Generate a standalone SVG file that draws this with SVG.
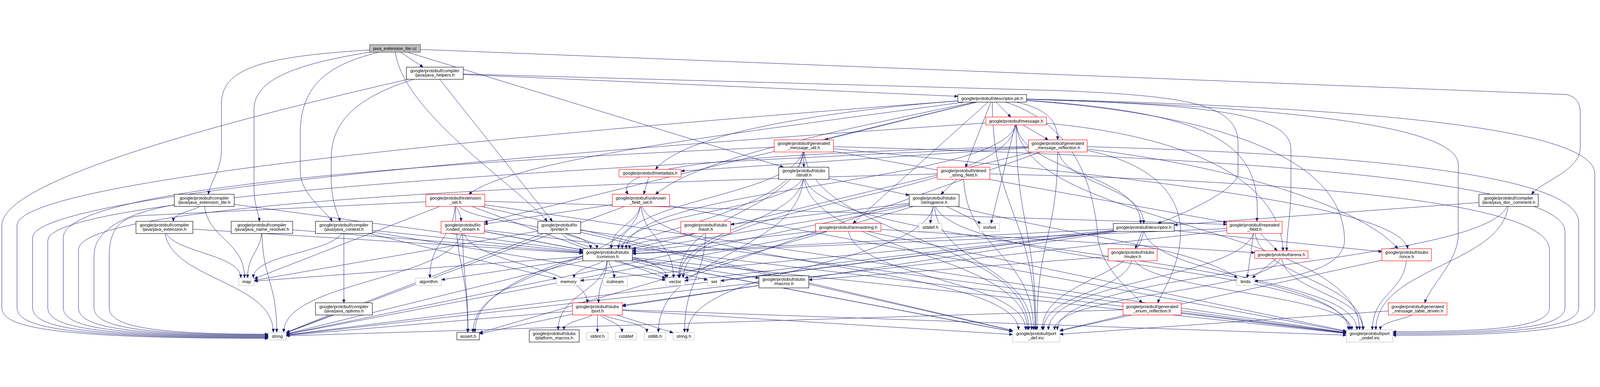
<svg xmlns="http://www.w3.org/2000/svg" width="5260" height="991" viewBox="0 0 5260 991" style="width:100%;height:100%">
<defs>
<style>
.e{fill:none;stroke:#191970;stroke-width:1.2;marker-end:url(#a)}
.n rect{fill:#fff;stroke:#000;stroke-width:1.4}
.r rect{fill:#fff;stroke:#ff0000;stroke-width:1.4}
.g rect{fill:#fff;stroke:#bfbfbf;stroke-width:1.4}
.rt rect{fill:#bfbfbf;stroke:#404040;stroke-width:1.4}
text{font-family:"Liberation Sans",Arial,Helvetica,sans-serif;font-size:14.7px;fill:#000;text-anchor:middle}
</style>
<marker id="a" markerWidth="12" markerHeight="10" refX="11" refY="5" orient="auto" markerUnits="userSpaceOnUse"><path d="M0,0.5 L11,5 L0,9.5 z" fill="#191970" stroke="#191970"/></marker>
</defs>
<rect x="0" y="0" width="5260" height="991" fill="#fff"/>
<g id="edges">
<path class="e" d="M1298.5,18.5 C900,40 728,70 728,200 L728,350 C728,420 690,460 685,498"/>
<path class="e" d="M1298.5,18.5 C1000,60 835,110 835,220 L835,480 C835,530 850,560 853,587"/>
<path class="e" d="M1298.5,18.5 C1100,60 987,120 987,300 L987,420 C987,500 1070,550 1092,587"/>
<path class="e" d="M1298.5,18.5 L1391,80"/>
<path class="e" d="M1298.5,18.5 C1310,220 1700,470 1799,587"/>
<path class="e" d="M1298.5,18.5 L2576,409"/>
<path class="e" d="M1298.5,18.5 L5150,170 Q5195,180 5195,230 L5195,345 C5195,420 5070,455 5035,498"/>
<path class="e" d="M1429.5,100 C1200,160 1089,240 1089,380 L1089,450 C1089,520 1110,560 1118,587"/>
<path class="e" d="M1429.5,100 L1816,587"/>
<path class="e" d="M1429.5,100 L3149,176"/>
<path class="e" d="M1429.5,100 L3480,157 C3900,175 4070,200 4070,330 L4070,430 C4070,480 3900,560 3806,594"/>
<path class="e" d="M1429.5,100 Q6,420 6,600 L6,870 C6,930 126,972 882,972"/>
<path class="e" d="M3262,182.5 Q56,420 56,600 L56,870 C56,930 176,970 882,970"/>
<path class="e" d="M3340.5,257 Q107,470 107,640 L107,870 C107,930 227,968 882,968"/>
<path class="e" d="M3477.5,339 Q157,480 157,650 L157,870 C157,930 277,966 882,966"/>
<path class="e" d="M2642.5,339 Q208,440 208,640 L208,870 C208,930 328,964 882,964"/>
<path class="e" d="M3167.5,429 Q258,500 258,680 L258,870 C258,930 378,962 882,962"/>
<path class="e" d="M671.5,518 Q309,560 309,700 L309,870 C309,930 429,960 882,960"/>
<path class="e" d="M1497,518 L470,568 Q359,572 359,700 L359,870 C359,930 479,958 882,958"/>
<path class="e" d="M671.5,518 c0,34.5 -101.6,34.5 -101.6,69"/>
<path class="e" d="M671.5,518 c0,127.5 132.5,127.5 132.5,255"/>
<path class="e" d="M671.5,518 l1244.5,168"/>
<path class="e" d="M540.5,607 c0,83 251.1,83 251.1,166"/>
<path class="e" d="M540.5,607 c0,172.5 358,172.5 358,345"/>
<path class="e" d="M540.5,607 l1375.5,85"/>
<path class="e" d="M861,607 c0,83 -47,83 -47,166"/>
<path class="e" d="M861,607 c0,172.5 48.7,172.5 48.7,345"/>
<path class="e" d="M861,607 l1055,83.5"/>
<path class="e" d="M1130.5,607 c0,83 -297.6,83 -297.6,166"/>
<path class="e" d="M1130.5,607 l699.5,169.1"/>
<path class="e" d="M1130.5,607 l1057.5,173.3"/>
<path class="e" d="M1130.5,607 l785.5,81.5"/>
<path class="e" d="M1130.5,607 L1130.5,855"/>
<path class="e" d="M1130.5,875 l-189.5,77.5"/>
<path class="e" d="M4959.5,518 L3860,599"/>
<path class="e" d="M4959.5,518 c0,213 -1483.4,213 -1483.4,426"/>
<path class="e" d="M4959.5,518 c0,213 -436.5,213 -436.5,426"/>
<path class="e" d="M1838.5,607 l-1002.5,174.1"/>
<path class="e" d="M1838.5,607 l-897.5,346.1"/>
<path class="e" d="M1838.5,607 c0,83 354.3,83 354.3,166"/>
<path class="e" d="M1838.5,607 c0,35 123.7,35 123.7,70"/>
<path class="e" d="M1838.5,607 l1490.5,339.4"/>
<path class="e" d="M1838.5,607 l2587.5,346.7"/>
<path class="e" d="M2642.5,429 c0,261.5 -478.1,261.5 -478.1,523"/>
<path class="e" d="M2642.5,429 c0,172 -408.2,172 -408.2,344"/>
<path class="e" d="M2642.5,429 c0,124 -596.9,124 -596.9,248"/>
<path class="e" d="M2642.5,429 L2989,501"/>
<path class="e" d="M2642.5,429 c0,257.5 735.4,257.5 735.4,515"/>
<path class="e" d="M2642.5,429 c0,257.5 1790.5,257.5 1790.5,515"/>
<path class="e" d="M3262,182.5 C4300,240 4420,500 4420,650 C4420,740 4250,775 4124,784"/>
<path class="e" d="M3262,182.5 c0,380.75 140.8,380.75 140.8,761.5"/>
<path class="e" d="M3262,182.5 Q5243,222 5243,430 L5243,870 C5243,930 5093,962 4579,962"/>
<path class="e" d="M3262,182.5 l-1670,407.2"/>
<path class="e" d="M3262,182.5 C3900,200 4244,220 4244,350 L4244,480 C4244,560 4230,620 4230,684"/>
<path class="e" d="M3262,182.5 L2804,594"/>
<path class="e" d="M3262,182.5 C4000,200 4794,250 4794,400 L4794,630 C4794,720 4700,800 4684,855"/>
<path class="e" d="M3262,182.5 L2711,319"/>
<path class="e" d="M3262,182.5 L3174,409"/>
<path class="e" d="M3262,182.5 C2700,220 2250,300 2155,416"/>
<path class="e" d="M3262,182.5 C3420,200 3477,240 3477,319"/>
<path class="e" d="M3262,182.5 L3323,244"/>
<path class="e" d="M3262,182.5 C4000,220 4150,330 4132,587"/>
<path class="e" d="M3262,182.5 C2400,300 1700,380 1541,498"/>
<path class="e" d="M3262,182.5 C3550,250 3600,500 3610,650 C3630,750 3720,820 3755,855"/>
<path class="e" d="M3262,182.5 C2700,300 2300,380 2155,498"/>
<path class="e" d="M3340.5,257 L3258,594"/>
<path class="e" d="M3340.5,257 c0,258 -1094.5,258 -1094.5,516"/>
<path class="e" d="M3340.5,257 C3900,290 4210,450 4218,684"/>
<path class="e" d="M3340.5,257 c0,168.5 409.5,168.5 409.5,337"/>
<path class="e" d="M3340.5,257 L3446,319"/>
<path class="e" d="M3340.5,257 c0,343.5 64.1,343.5 64.1,687"/>
<path class="e" d="M3340.5,257 c0,343.5 1129.1,343.5 1129.1,687"/>
<path class="e" d="M3340.5,257 c0,210 -1282,210 -1282,420"/>
<path class="e" d="M3477.5,339 l-1226.5,435.3"/>
<path class="e" d="M3477.5,339 l-1398.5,338.3"/>
<path class="e" d="M3477.5,339 c0,127.5 282.5,127.5 282.5,255"/>
<path class="e" d="M3477.5,339 C3850,380 3890,550 3880,650 C3870,750 3820,820 3806,855"/>
<path class="e" d="M3477.5,339 C2500,360 2000,400 2065,498"/>
<path class="e" d="M3477.5,339 C4100,400 4500,560 4595,677"/>
<path class="e" d="M3477.5,339 c0,302.5 -68.7,302.5 -68.7,605"/>
<path class="e" d="M3477.5,339 Q5190,380 5190,590 L5190,870 C5190,930 5040,958 4579,958"/>
<path class="e" d="M3477.5,339 L2239,421.7"/>
<path class="e" d="M2642.5,339 c0,306.5 -1081.5,306.5 -1081.5,613"/>
<path class="e" d="M2642.5,339 c0,217 -411.2,217 -411.2,434"/>
<path class="e" d="M2642.5,339 c0,169 -609,169 -609,338"/>
<path class="e" d="M2642.5,339 C3500,420 4600,520 4628,677"/>
<path class="e" d="M2642.5,339 L2642.5,409"/>
<path class="e" d="M2642.5,339 L4033,590.5"/>
<path class="e" d="M2642.5,339 c0,302.5 739.6,302.5 739.6,605"/>
<path class="e" d="M2642.5,339 Q5145,400 5145,620 L5145,870 C5145,930 4995,954 4579,954"/>
<path class="e" d="M2137,428.5 L2116,498"/>
<path class="e" d="M2107,518 c0,217 -552.1,217 -552.1,434"/>
<path class="e" d="M2107,518 l-1166,435.5"/>
<path class="e" d="M2107,518 c0,127.5 107.2,127.5 107.2,255"/>
<path class="e" d="M2107,518 c0,79.5 -97.3,79.5 -97.3,159"/>
<path class="e" d="M2107,518 l-515,78.2"/>
<path class="e" d="M2107,518 c0,213 1241.2,213 1241.2,426"/>
<path class="e" d="M2107,518 l2319,431.8"/>
<path class="e" d="M3167.5,429 L3093,498"/>
<path class="e" d="M3167.5,429 c0,257.5 230.1,257.5 230.1,515"/>
<path class="e" d="M3167.5,429 Q5094,470 5094,680 L5094,870 C5094,930 4944,950 4579,950"/>
<path class="e" d="M1497,518 c0,127.5 -83.9,127.5 -83.9,255"/>
<path class="e" d="M1497,518 c0,217 40.8,217 40.8,434"/>
<path class="e" d="M1497,518 l-661,257.6"/>
<path class="e" d="M1497,518 l691,255.8"/>
<path class="e" d="M1497,518 c0,79.5 444.6,79.5 444.6,159"/>
<path class="e" d="M1497,518 c0,34.5 18.6,34.5 18.6,69"/>
<path class="e" d="M1497,518 L4033,597"/>
<path class="e" d="M1497,518 l1832,427.9"/>
<path class="e" d="M1497,518 l2929,434.6"/>
<path class="e" d="M1521,607 c0,172.5 17.4,172.5 17.4,345"/>
<path class="e" d="M1521,607 c0,172.5 -588.2,172.5 -588.2,345"/>
<path class="e" d="M1521,607 l395,74.6"/>
<path class="e" d="M1521,607 c0,124 409.9,124 409.9,248"/>
<path class="e" d="M1521,607 l1808,342.3"/>
<path class="e" d="M1521,607 l2905,347.8"/>
<path class="e" d="M3071,518 l-1495,435.7"/>
<path class="e" d="M3071,518 L3058,594"/>
<path class="e" d="M3071,518 c0,217 -810.7,217 -810.7,434"/>
<path class="e" d="M3071,518 L3225,594"/>
<path class="e" d="M3071,518 C3500,640 3900,660 4068,773"/>
<path class="e" d="M3071,518 l-2130,440.4"/>
<path class="e" d="M3071,518 l-992,165.4"/>
<path class="e" d="M3071,518 L2402,597.3"/>
<path class="e" d="M3071,518 c0,213 320.5,213 320.5,426"/>
<path class="e" d="M3071,518 c0,213 1367.3,213 1367.3,426"/>
<path class="e" d="M2320,607 c0,172.5 -69.5,172.5 -69.5,345"/>
<path class="e" d="M2320,607 c0,35 -250.8,35 -250.8,70"/>
<path class="e" d="M2788.5,607 l-1847.5,351.9"/>
<path class="e" d="M2788.5,607 l-709.5,80.7"/>
<path class="e" d="M2788.5,607 L4125,690"/>
<path class="e" d="M2788.5,607 c0,168.5 583.4,168.5 583.4,337"/>
<path class="e" d="M2788.5,607 l1637.5,341.1"/>
<path class="e" d="M1997.5,697 l-546.5,82.2"/>
<path class="e" d="M1997.5,697 c0,38 21.5,38 21.5,76"/>
<path class="e" d="M1997.5,697 l-1161.5,86.6"/>
<path class="e" d="M1997.5,697 c0,38 -110.3,38 -110.3,76"/>
<path class="e" d="M1997.5,697 l328.5,83.1"/>
<path class="e" d="M1997.5,697 l-1056.5,260.2"/>
<path class="e" d="M1997.5,697 c0,38 190.6,38 190.6,76"/>
<path class="e" d="M1997.5,697 l497.5,76.4"/>
<path class="e" d="M1997.5,697 c0,123.5 -162.4,123.5 -162.4,247"/>
<path class="e" d="M1997.5,697 c0,79 -29.7,79 -29.7,158"/>
<path class="e" d="M1997.5,697 l1331.5,252.3"/>
<path class="e" d="M1997.5,697 l2428.5,258.8"/>
<path class="e" d="M1964,875 l-388,81.7"/>
<path class="e" d="M1964,875 c0,38.5 162.6,38.5 162.6,77"/>
<path class="e" d="M1964,875 c0,38.5 80.9,38.5 80.9,77"/>
<path class="e" d="M1964,875 l-1023,87"/>
<path class="e" d="M1964,875 l249,78.5"/>
<path class="e" d="M1964,875 L1964,952"/>
<path class="e" d="M1964,875 c0,34.5 -110.1,34.5 -110.1,69"/>
<path class="e" d="M1964,875 l1365,84.2"/>
<path class="e" d="M1964,875 l2462,86.3"/>
<path class="e" d="M2577,786 l-531,77.1"/>
<path class="e" d="M3760,607 l-1852,174.8"/>
<path class="e" d="M3760,607 l-1391,175.8"/>
<path class="e" d="M3760,607 l-2819,353.8"/>
<path class="e" d="M3760,607 l-1509,174.8"/>
<path class="e" d="M3760,607 l-1681,85.8"/>
<path class="e" d="M3760,607 L3732,677"/>
<path class="e" d="M3760,607 L4543,687"/>
<path class="e" d="M3760,607 L2046,866"/>
<path class="e" d="M3760,607 c0,168.5 -333.7,168.5 -333.7,337"/>
<path class="e" d="M3760,607 c0,168.5 700.9,168.5 700.9,337"/>
<path class="e" d="M3723.5,697 l-1064.5,82.6"/>
<path class="e" d="M3723.5,697 c0,123.5 -293.3,123.5 -293.3,247"/>
<path class="e" d="M3723.5,697 c0,123.5 720.6,123.5 720.6,247"/>
<path class="e" d="M4624.5,697 l-1140.5,250"/>
<path class="e" d="M4624.5,697 c0,123.5 -112.9,123.5 -112.9,247"/>
<path class="e" d="M4124,607 L4100,773"/>
<path class="e" d="M4124,607 l-3183,354.2"/>
<path class="e" d="M4124,607 l-2045,86.6"/>
<path class="e" d="M4124,607 L4199,684"/>
<path class="e" d="M4124,607 c0,168.5 -677.3,168.5 -677.3,337"/>
<path class="e" d="M4124,607 c0,168.5 357.3,168.5 357.3,337"/>
<path class="e" d="M4212.5,696.5 L4117,773"/>
<path class="e" d="M4212.5,696.5 c0,123.75 -745.7,123.75 -745.7,247.5"/>
<path class="e" d="M4212.5,696.5 c0,123.75 268.3,123.75 268.3,247.5"/>
<path class="e" d="M3787.5,875 l-2846.5,88.6"/>
<path class="e" d="M3787.5,875 l-303.5,70.9"/>
<path class="e" d="M3787.5,875 l638.5,79.5"/>
<path class="e" d="M4660.5,875 l-1176.5,83.5"/>
<path class="e" d="M4660.5,875 c0,34.5 -122.5,34.5 -122.5,69"/>
</g>
<g id="root" class="rt"><rect x="1215" y="6" width="167" height="25"/><text x="1298.5" y="23.5">java_extension_lite.cc</text></g>
<g id="java_helpers" class="n"><rect x="1336" y="80" width="187" height="40"/><text><tspan x="1429.5" y="97">google/protobuf/compiler</tspan><tspan x="1429.5" y="111">/java/java_helpers.h</tspan></text></g>
<g id="java_extension_lite_h" class="n"><rect x="573" y="498" width="197" height="40"/><text><tspan x="671.5" y="515">google/protobuf/compiler</tspan><tspan x="671.5" y="529">/java/java_extension_lite.h</tspan></text></g>
<g id="java_extension_h" class="n"><rect x="447" y="587" width="187" height="40"/><text><tspan x="540.5" y="604">google/protobuf/compiler</tspan><tspan x="540.5" y="618">/java/java_extension.h</tspan></text></g>
<g id="java_name_resolver_h" class="n"><rect x="760" y="587" width="202" height="40"/><text><tspan x="861" y="604">google/protobuf/compiler</tspan><tspan x="861" y="618">/java/java_name_resolver.h</tspan></text></g>
<g id="java_context_h" class="n"><rect x="1037" y="587" width="187" height="40"/><text><tspan x="1130.5" y="604">google/protobuf/compiler</tspan><tspan x="1130.5" y="618">/java/java_context.h</tspan></text></g>
<g id="java_options_h" class="n"><rect x="1037" y="855" width="187" height="40"/><text><tspan x="1130.5" y="872">google/protobuf/compiler</tspan><tspan x="1130.5" y="886">/java/java_options.h</tspan></text></g>
<g id="java_doc_comment_h" class="n"><rect x="4862" y="498" width="195" height="40"/><text><tspan x="4959.5" y="515">google/protobuf/compiler</tspan><tspan x="4959.5" y="529">/java/java_doc_comment.h</tspan></text></g>
<g id="string" class="g"><rect x="882" y="952" width="59" height="25"/><text x="911.5" y="969.5">string</text></g>
<g id="map" class="g"><rect x="785" y="773" width="51" height="25"/><text x="810.5" y="790.5">map</text></g>
<g id="algorithm" class="g"><rect x="1367" y="773" width="84" height="25"/><text x="1409" y="790.5">algorithm</text></g>
<g id="assert_h" class="n"><rect x="1502" y="952" width="74" height="25"/><text x="1539" y="969.5">assert.h</text></g>
<g id="extension_set_h" class="r"><rect x="1400" y="498" width="194" height="40"/><text><tspan x="1497" y="515">google/protobuf/extension</tspan><tspan x="1497" y="529">_set.h</tspan></text></g>
<g id="coded_stream_h" class="r"><rect x="1450" y="587" width="142" height="40"/><text><tspan x="1521" y="604">google/protobuf/io</tspan><tspan x="1521" y="618">/coded_stream.h</tspan></text></g>
<g id="unknown_field_set_h" class="r"><rect x="2013" y="498" width="188" height="40"/><text><tspan x="2107" y="515">google/protobuf/unknown</tspan><tspan x="2107" y="529">_field_set.h</tspan></text></g>
<g id="metadata_h" class="r"><rect x="2035" y="416" width="204" height="25"/><text x="2137" y="433.5">google/protobuf/metadata.h</text></g>
<g id="generated_message_util_h" class="r"><rect x="2545" y="319" width="195" height="40"/><text><tspan x="2642.5" y="336">google/protobuf/generated</tspan><tspan x="2642.5" y="350">_message_util.h</tspan></text></g>
<g id="strutil_h" class="n"><rect x="2560" y="409" width="165" height="40"/><text><tspan x="2642.5" y="426">google/protobuf/stubs</tspan><tspan x="2642.5" y="440">/strutil.h</tspan></text></g>
<g id="printer_h" class="n"><rect x="1768" y="587" width="141" height="40"/><text><tspan x="1838.5" y="604">google/protobuf/io</tspan><tspan x="1838.5" y="618">/printer.h</tspan></text></g>
<g id="hash_h" class="r"><rect x="2238" y="587" width="164" height="40"/><text><tspan x="2320" y="604">google/protobuf/stubs</tspan><tspan x="2320" y="618">/hash.h</tspan></text></g>
<g id="common_h" class="n"><rect x="1916" y="677" width="163" height="40"/><text><tspan x="1997.5" y="694">google/protobuf/stubs</tspan><tspan x="1997.5" y="708">/common.h</tspan></text></g>
<g id="memory" class="g"><rect x="1830" y="773" width="78" height="25"/><text x="1869" y="790.5">memory</text></g>
<g id="iostream" class="g"><rect x="1982" y="773" width="81" height="25"/><text x="2022.5" y="790.5">iostream</text></g>
<g id="vector" class="g"><rect x="2188" y="773" width="63" height="25"/><text x="2219.5" y="790.5">vector</text></g>
<g id="set" class="g"><rect x="2326" y="773" width="43" height="25"/><text x="2347.5" y="790.5">set</text></g>
<g id="macros_h" class="n"><rect x="2495" y="766" width="164" height="40"/><text><tspan x="2577" y="783">google/protobuf/stubs</tspan><tspan x="2577" y="797">/macros.h</tspan></text></g>
<g id="port_h" class="r"><rect x="1882" y="855" width="164" height="40"/><text><tspan x="1964" y="872">google/protobuf/stubs</tspan><tspan x="1964" y="886">/port.h</tspan></text></g>
<g id="platform_macros_h" class="n"><rect x="1740" y="944" width="164" height="40"/><text><tspan x="1822" y="961">google/protobuf/stubs</tspan><tspan x="1822" y="975">/platform_macros.h</tspan></text></g>
<g id="stdint_h" class="g"><rect x="1929" y="952" width="70" height="25"/><text x="1964" y="969.5">stdint.h</text></g>
<g id="cstddef" class="g"><rect x="2023" y="952" width="70" height="25"/><text x="2058" y="969.5">cstddef</text></g>
<g id="stdlib_h" class="g"><rect x="2118" y="952" width="70" height="25"/><text x="2153" y="969.5">stdlib.h</text></g>
<g id="string_h" class="g"><rect x="2213" y="952" width="70" height="25"/><text x="2248" y="969.5">string.h</text></g>
<g id="descriptor_pb_h" class="n"><rect x="3149" y="170" width="226" height="25"/><text x="3262" y="187.5">google/protobuf/descriptor.pb.h</text></g>
<g id="message_h" class="r"><rect x="3241" y="244" width="199" height="26"/><text x="3340.5" y="262">google/protobuf/message.h</text></g>
<g id="generated_message_reflection_h" class="r"><rect x="3381" y="319" width="193" height="40"/><text><tspan x="3477.5" y="336">google/protobuf/generated</tspan><tspan x="3477.5" y="350">_message_reflection.h</tspan></text></g>
<g id="inlined_string_field_h" class="r"><rect x="3081" y="409" width="173" height="40"/><text><tspan x="3167.5" y="426">google/protobuf/inlined</tspan><tspan x="3167.5" y="440">_string_field.h</tspan></text></g>
<g id="stringpiece_h" class="n"><rect x="2989" y="498" width="164" height="40"/><text><tspan x="3071" y="515">google/protobuf/stubs</tspan><tspan x="3071" y="529">/stringpiece.h</tspan></text></g>
<g id="arenastring_h" class="r"><rect x="2681" y="594" width="215" height="26"/><text x="2788.5" y="612">google/protobuf/arenastring.h</text></g>
<g id="stddef_h" class="g"><rect x="3021" y="594" width="75" height="26"/><text x="3058.5" y="612">stddef.h</text></g>
<g id="iosfwd" class="g"><rect x="3221" y="594" width="64" height="26"/><text x="3253" y="612">iosfwd</text></g>
<g id="port_def_inc" class="g"><rect x="3329" y="944" width="155" height="40"/><text><tspan x="3406.5" y="961">google/protobuf/port</tspan><tspan x="3406.5" y="975">_def.inc</tspan></text></g>
<g id="descriptor_h" class="n"><rect x="3660" y="594" width="200" height="26"/><text x="3760" y="612">google/protobuf/descriptor.h</text></g>
<g id="repeated_field_h" class="r"><rect x="4033" y="587" width="182" height="40"/><text><tspan x="4124" y="604">google/protobuf/repeated</tspan><tspan x="4124" y="618">_field.h</tspan></text></g>
<g id="mutex_h" class="r"><rect x="3643" y="677" width="161" height="40"/><text><tspan x="3723.5" y="694">google/protobuf/stubs</tspan><tspan x="3723.5" y="708">/mutex.h</tspan></text></g>
<g id="arena_h" class="r"><rect x="4125" y="684" width="175" height="25"/><text x="4212.5" y="701.5">google/protobuf/arena.h</text></g>
<g id="limits" class="g"><rect x="4066" y="773" width="58" height="25"/><text x="4095" y="790.5">limits</text></g>
<g id="generated_enum_reflection_h" class="r"><rect x="3692" y="855" width="191" height="40"/><text><tspan x="3787.5" y="872">google/protobuf/generated</tspan><tspan x="3787.5" y="886">_enum_reflection.h</tspan></text></g>
<g id="port_undef_inc" class="g"><rect x="4426" y="944" width="153" height="40"/><text><tspan x="4502.5" y="961">google/protobuf/port</tspan><tspan x="4502.5" y="975">_undef.inc</tspan></text></g>
<g id="once_h" class="r"><rect x="4543" y="677" width="163" height="40"/><text><tspan x="4624.5" y="694">google/protobuf/stubs</tspan><tspan x="4624.5" y="708">/once.h</tspan></text></g>
<g id="generated_message_table_driven_h" class="r"><rect x="4564" y="855" width="193" height="40"/><text><tspan x="4660.5" y="872">google/protobuf/generated</tspan><tspan x="4660.5" y="886">_message_table_driven.h</tspan></text></g>
</svg>
